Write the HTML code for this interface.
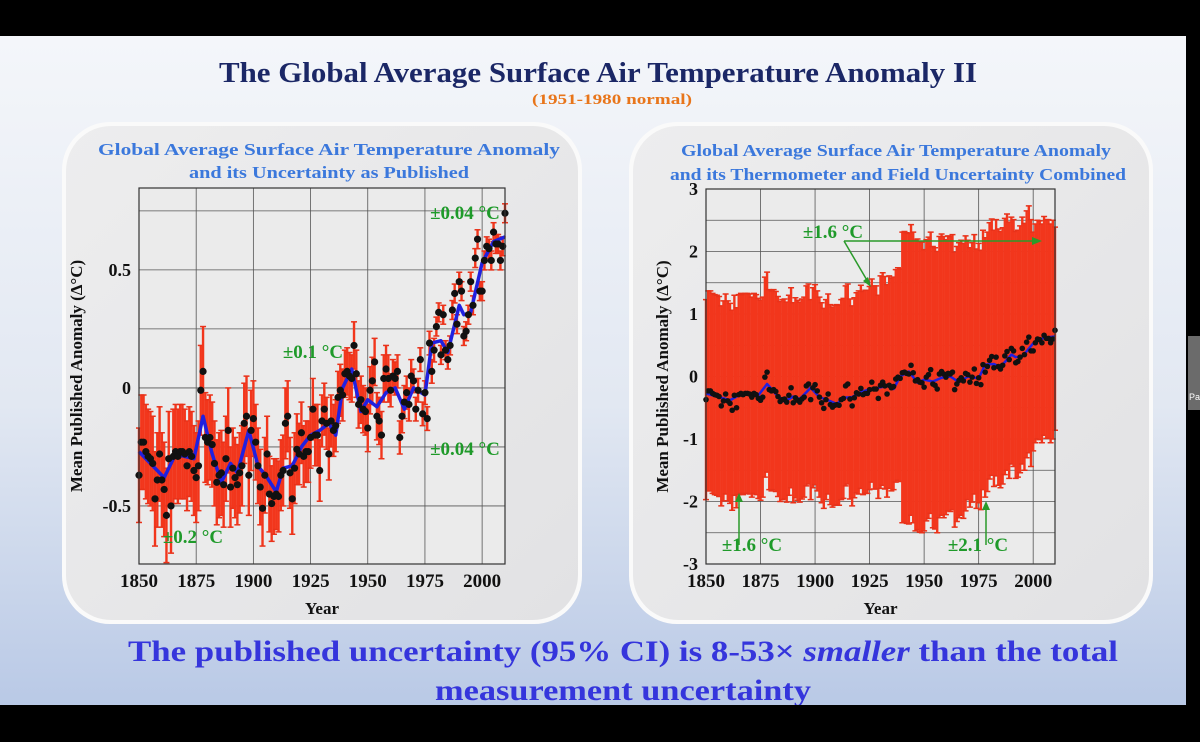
<!DOCTYPE html>
<html><head><meta charset="utf-8">
<style>
html,body{margin:0;padding:0;background:#000;}
svg{display:block;font-family:"Liberation Serif",serif;font-weight:bold;}
</style></head>
<body>
<svg id="root" width="1200" height="742" viewBox="0 0 1200 742" xmlns="http://www.w3.org/2000/svg">
<defs>
<linearGradient id="bg" x1="0" y1="0" x2="0" y2="1">
<stop offset="0" stop-color="#f4f6fa"/><stop offset="0.55" stop-color="#e2e8f2"/><stop offset="1" stop-color="#b9c9e6"/>
</linearGradient>
<linearGradient id="pn" x1="0" y1="0" x2="1" y2="1">
<stop offset="0" stop-color="#ededee"/><stop offset="1" stop-color="#e2e2e4"/>
</linearGradient>
</defs>
<rect x="0" y="0" width="1200" height="742" fill="#000"/>
<rect x="0" y="36" width="1186" height="669" fill="url(#bg)"/>
<rect x="1188" y="336" width="12" height="74" fill="#6b6b6b"/>
<text x="1189" y="400" font-size="9" fill="#fff" font-family="Liberation Sans,sans-serif" font-weight="normal">Pa</text>

<text x="598" y="82" text-anchor="middle" font-size="28" fill="#1b2766" textLength="758" lengthAdjust="spacingAndGlyphs">The Global Average Surface Air Temperature Anomaly II</text>
<text x="612" y="104" text-anchor="middle" font-size="15" fill="#e8751a" textLength="160" lengthAdjust="spacingAndGlyphs">(1951-1980 normal)</text>

<rect x="62" y="122" width="520" height="502" rx="48" fill="#fafafa"/>
<rect x="66" y="126" width="512" height="494" rx="45" fill="url(#pn)"/>
<rect x="629" y="122" width="524" height="502" rx="48" fill="#fafafa"/>
<rect x="633" y="126" width="516" height="494" rx="45" fill="url(#pn)"/>

<text x="329" y="155" text-anchor="middle" font-size="17" fill="#3b78dc" textLength="462" lengthAdjust="spacingAndGlyphs">Global Average Surface Air Temperature Anomaly</text>
<text x="329" y="178" text-anchor="middle" font-size="17" fill="#3b78dc" textLength="280" lengthAdjust="spacingAndGlyphs">and its Uncertainty as Published</text>
<text x="896" y="156" text-anchor="middle" font-size="17" fill="#3b78dc" textLength="430" lengthAdjust="spacingAndGlyphs">Global Average Surface Air Temperature Anomaly</text>
<text x="898" y="180" text-anchor="middle" font-size="17" fill="#3b78dc" textLength="456" lengthAdjust="spacingAndGlyphs">and its Thermometer and Field Uncertainty Combined</text>

<g id="left"></g>
<g id="right"></g>

<text x="623" y="661" text-anchor="middle" font-size="30" fill="#3535dc" textLength="990" lengthAdjust="spacingAndGlyphs">The published uncertainty (95% CI)  is 8-53× <tspan font-style="italic">smaller</tspan> than the total</text>
<text x="623" y="700" text-anchor="middle" font-size="30" fill="#3535dc" textLength="376" lengthAdjust="spacingAndGlyphs">measurement uncertainty</text>
<rect x="0" y="705" width="1200" height="37" fill="#000"/>
</svg>
<script>
const years = [];
for (let y = 1850; y <= 2010; y++) years.push(y);
const anomaly = [
-0.37,-0.23,-0.23,-0.27,-0.29,-0.30,-0.32,-0.47,-0.39,-0.28,
-0.39,-0.43,-0.54,-0.30,-0.50,-0.29,-0.27,-0.29,-0.27,-0.27,
-0.28,-0.33,-0.27,-0.29,-0.35,-0.38,-0.33,-0.01,0.07,-0.21,
-0.23,-0.21,-0.24,-0.32,-0.40,-0.37,-0.36,-0.41,-0.30,-0.18,
-0.42,-0.34,-0.38,-0.41,-0.36,-0.33,-0.15,-0.12,-0.37,-0.18,
-0.13,-0.23,-0.33,-0.42,-0.51,-0.37,-0.28,-0.45,-0.49,-0.46,
-0.45,-0.46,-0.37,-0.35,-0.15,-0.12,-0.36,-0.47,-0.34,-0.26,
-0.28,-0.19,-0.29,-0.27,-0.27,-0.21,-0.09,-0.20,-0.20,-0.35,
-0.14,-0.09,-0.15,-0.28,-0.14,-0.18,-0.16,-0.04,-0.01,-0.03,
0.06,0.07,0.05,0.04,0.18,0.06,-0.07,-0.05,-0.09,-0.10,
-0.17,-0.01,0.03,0.11,-0.12,-0.14,-0.20,0.04,0.08,0.04,
-0.01,0.05,0.04,0.07,-0.21,-0.12,-0.06,-0.02,-0.07,0.05,
0.03,-0.09,-0.01,0.12,-0.11,-0.02,-0.13,0.19,0.07,0.16,
0.26,0.32,0.14,0.31,0.16,0.12,0.18,0.33,0.40,0.27,
0.45,0.41,0.22,0.24,0.31,0.45,0.35,0.55,0.63,0.41,
0.41,0.54,0.60,0.59,0.54,0.66,0.61,0.61,0.54,0.60,
0.74];
const smoothYears = [1850,1855,1861,1866,1870,1874,1878,1882,1886,1890,1893,1898,1902,1906,1910,1913,1917,1921,1925,1929,1933,1936,1939,1943,1947,1950,1954,1958,1962,1966,1970,1975,1978,1982,1985,1990,1992,1995,2000,2005,2010];
const smoothValues = [-0.27,-0.32,-0.38,-0.28,-0.29,-0.30,-0.12,-0.28,-0.40,-0.32,-0.36,-0.18,-0.33,-0.38,-0.44,-0.34,-0.33,-0.25,-0.20,-0.18,-0.15,-0.20,0.0,0.08,-0.10,-0.05,-0.08,-0.02,0.0,-0.09,0.0,-0.03,0.19,0.20,0.15,0.35,0.31,0.32,0.53,0.62,0.64];
// published uncertainty per decade (1850s..2010)
const pubErr = [0.20,0.20,0.19,0.18,0.17,0.16,0.15,0.13,0.11,0.10,0.10,0.07,0.05,0.04,0.04,0.04,0.04];
// total uncertainty (upper / lower) per decade
const totUp = [1.6,1.6,1.6,1.6,1.6,1.6,1.6,1.65,1.75,2.25,2.2,2.2,2.15,2.2,2.1,1.9,1.65];
const totDown = [1.6,1.6,1.6,1.6,1.6,1.6,1.6,1.6,1.65,2.4,2.3,2.2,2.0,1.9,1.85,1.6,1.6];
const leftTicks = [-0.5,0,0.5];
const rightTicks = [-3,-2,-1,0,1,2,3];
const xTicks = [1850,1875,1900,1925,1950,1975,2000];

const NS = "http://www.w3.org/2000/svg";
function mk(parent, tag, attrs){const e=document.createElementNS(NS,tag);for(const k in attrs)e.setAttribute(k,attrs[k]);parent.appendChild(e);return e;}
function txt(parent,x,y,s,size,fill,anchor){const e=mk(parent,'text',{x:x,y:y,'font-size':size,fill:fill,'text-anchor':anchor||'middle'});e.textContent=s;return e;}

function drawChart(g, cfg){
  const {x0,x1,y0,y1,ymin,ymax} = cfg;
  const X = yr => x0 + (yr-1850)/(2010-1850)*(x1-x0);
  const Y = v => y1 - (v-ymin)/(ymax-ymin)*(y1-y0);
  const plot = mk(g,'rect',{x:x0,y:y0,width:x1-x0,height:y1-y0,fill:'#ebebeb',stroke:'none'});
  
  
  xTicks.forEach(t=>{
    const l=mk(g,'line',{x1:X(t),x2:X(t),y1:y0,y2:y1,stroke:'#555','stroke-width':0.8});
    
    
    const lb=txt(g,X(t),y1+23,String(t),19,'#111');
    
    
  });
  cfg.grid.forEach(v=>{
    const l=mk(g,'line',{x1:x0,x2:x1,y1:Y(v),y2:Y(v),stroke:'#555','stroke-width':0.8});
    
    
  });
  cfg.ticks.forEach(v=>{
    const lb=txt(g,x0-8,Y(v)+6,String(v),18,'#111','end');
    
    
  });
  years.forEach((yr,i)=>{
    const d=Math.min(16,Math.floor((yr-1850)/10));
    const up=anomaly[i]+cfg.up[d], dn=anomaly[i]-cfg.down[d];
    const b=mk(g,'line',{x1:X(yr),x2:X(yr),y1:Y(up),y2:Y(dn),stroke:'#f2361c','stroke-width':cfg.bw});
    
    
    mk(g,'line',{x1:X(yr)-3,x2:X(yr)+3,y1:Y(up),y2:Y(up),stroke:'#e8321a','stroke-width':1.5});
    mk(g,'line',{x1:X(yr)-3,x2:X(yr)+3,y1:Y(dn),y2:Y(dn),stroke:'#e8321a','stroke-width':1.5});
  });
  const sl=mk(g,'polyline',{points:smoothYears.map((yr,i)=>X(yr)+','+Y(smoothValues[i])).join(' '),fill:'none',stroke:'#2020e0','stroke-width':cfg.lw,'stroke-linejoin':'round'});
  
  
  years.forEach((yr,i)=>{
    const p=mk(g,'circle',{cx:X(yr),cy:Y(anomaly[i]),r:cfg.r,fill:'#111'});
    
    
  });
  mk(g,'rect',{x:x0,y:y0,width:x1-x0,height:y1-y0,fill:'none',stroke:'#333','stroke-width':1.2});
  const yt=txt(g,0,0,'Mean Published Anomaly (Δ°C)',17,'#111');
  yt.setAttribute('transform','translate('+cfg.yTitleX+','+((y0+y1)/2)+') rotate(-90)');
  
  
  const xt=txt(g,(x0+x1)/2,y1+50,'Year',17,'#111');
  
  
  return {X,Y};
}

const L=document.getElementById('left');
drawChart(L,{x0:139,x1:505,y0:188,y1:564,ymin:-0.746,ymax:0.847,grid:[-0.5,-0.25,0,0.25,0.5,0.75],ticks:leftTicks,up:pubErr,down:pubErr,bw:2.4,lw:3.5,r:3.6,yTitleX:82});
[['±0.04 °C',465,219],['±0.1 °C',313,358],['±0.04 °C',465,455],['±0.2 °C',193,543]].forEach(a=>{
  const t=txt(L,a[1],a[2],a[0],19,'#1f9a2a');
  
  
});

const R=document.getElementById('right');
drawChart(R,{x0:706,x1:1055,y0:189,y1:564,ymin:-3,ymax:3,grid:[-2.5,-2,-1.5,-1,-0.5,0,0.5,1,1.5,2,2.5],ticks:rightTicks,up:totUp,down:totDown,bw:2.4,lw:2.5,r:2.8,yTitleX:668});
const ann=[['±1.6 °C',833,238],['±1.6 °C',752,551],['±2.1 °C',978,551]];
ann.forEach(a=>{const t=txt(R,a[1],a[2],a[0],19,'#1f9a2a');
  
  });
[[844,241,1034,241],[844,241,868,282],[739,545,739,500],[986,545,986,508]].forEach(s=>{
  const l=mk(R,'line',{x1:s[0],y1:s[1],x2:s[2],y2:s[3],stroke:'#2a9a2a','stroke-width':1.5});
  
  
});
mk(R,'polygon',{points:'1042,241 1032,237 1032,245',fill:'#2a9a2a'});
mk(R,'polygon',{points:'871,287 863,281 868,277',fill:'#2a9a2a'});
mk(R,'polygon',{points:'739,493 735,502 743,502',fill:'#2a9a2a'});
mk(R,'polygon',{points:'986,501 982,510 990,510',fill:'#2a9a2a'});
</script>
</body></html>
